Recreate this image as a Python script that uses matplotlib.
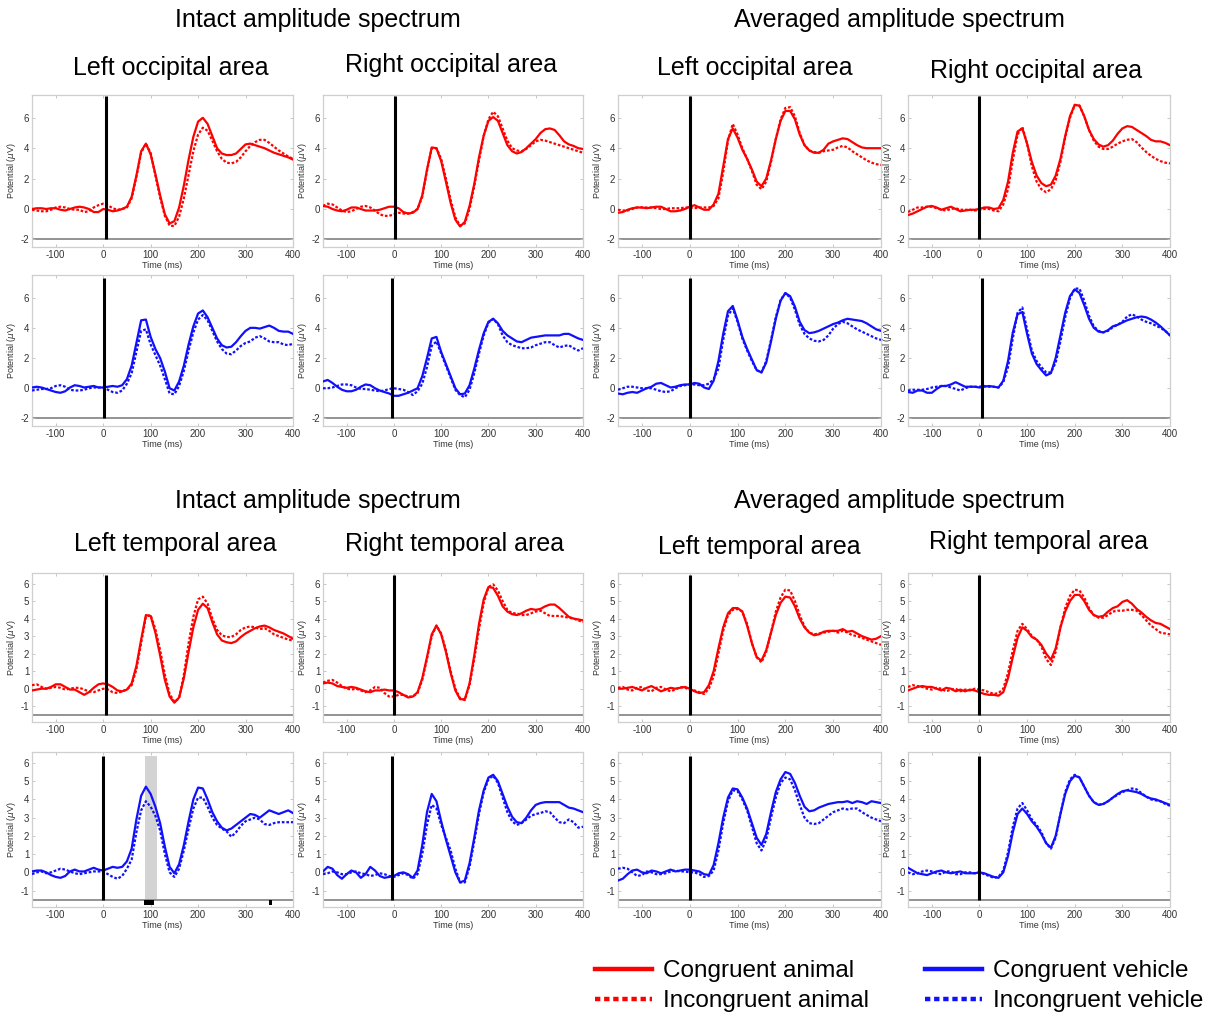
import matplotlib
matplotlib.use("Agg")
import matplotlib.pyplot as plt
from matplotlib.lines import Line2D

plt.rcParams['font.family'] = ['Liberation Sans', 'DejaVu Sans']
plt.rcParams['axes.unicode_minus'] = False

# ---------------------------------------------------------------- data
time_ms = list(range(-150, 401, 10))

# Occipital, animal (intact / averaged spectrum, left / right hemisphere)
occ_int_left_cong_animal = [
    0.0, 0.05, 0.05, 0.0, 0.05, 0.05, -0.05, -0.1, 0.0, 0.1, 0.15, 0.1, 0.0, -0.2, -0.2,
    0.0, -0.05, -0.15, -0.1, 0.0, 0.15,
    0.8, 2.2, 3.8, 4.3, 3.6, 2.3, 0.9, -0.35, -0.95, -0.8,
    0.1, 1.55, 3.25, 4.75, 5.75, 6.0, 5.6, 4.8, 4.0, 3.65,
    3.55, 3.55, 3.65, 3.95, 4.25, 4.3, 4.2, 4.1, 4.0, 3.85, 3.7, 3.6, 3.5, 3.4, 3.25]
occ_int_left_incong_animal = [
    -0.05, -0.1, -0.15, -0.15, -0.05, 0.1, 0.15, 0.1, 0.0, -0.05, -0.05, -0.2, -0.15, 0.1, 0.25,
    0.35, 0.25, 0.05, -0.05, 0.0, 0.1,
    0.7, 2.1, 3.7, 4.3, 3.7, 2.2, 0.75, -0.45, -1.1, -1.12,
    -0.5, 0.7, 2.25, 3.8, 4.9, 5.35, 5.15, 4.5, 3.8, 3.3,
    3.05, 3.0, 3.1, 3.4, 3.8, 4.15, 4.4, 4.55, 4.55, 4.35, 4.1, 3.85, 3.65, 3.45, 3.3]
occ_int_right_cong_animal = [
    0.2, 0.15, 0.0, -0.1, -0.15, -0.05, 0.1, 0.1, 0.0, -0.1, -0.1, -0.1, -0.05, 0.05, 0.15,
    0.15, 0.05, -0.2, -0.3, -0.25, 0.0,
    0.9, 2.6, 4.05, 4.0, 3.15, 1.8, 0.4, -0.7, -1.15, -0.85,
    0.2, 1.65, 3.4, 4.85, 5.8, 6.05, 5.8, 5.0, 4.2, 3.8,
    3.65, 3.75, 4.0, 4.3, 4.6, 5.0, 5.25, 5.3, 5.2, 4.85, 4.45, 4.25, 4.15, 4.0, 3.95]
occ_int_right_incong_animal = [
    0.2, 0.35, 0.3, 0.1, -0.1, -0.2, -0.15, 0.0, 0.15, 0.2, 0.1, -0.1, -0.35, -0.45, -0.45,
    -0.35, -0.25, -0.3, -0.3, -0.2, 0.0,
    0.8, 2.5, 4.0, 4.0, 3.3, 2.0, 0.6, -0.55, -1.1, -0.95,
    0.0, 1.5, 3.2, 4.8, 5.9, 6.4, 6.1, 5.3, 4.5, 4.0,
    3.85, 3.8, 3.95, 4.2, 4.45, 4.55, 4.5, 4.4, 4.3, 4.2, 4.1, 4.0, 3.9, 3.8, 3.7]
occ_avg_left_cong_animal = [
    -0.25, -0.2, -0.05, 0.05, 0.1, 0.1, 0.05, 0.1, 0.15, 0.15, 0.0, -0.15, -0.15, -0.1, 0.0,
    0.15, 0.25, 0.1, -0.05, -0.05, 0.3,
    1.0, 2.8, 4.6, 5.3, 4.7, 3.9, 3.3, 2.6, 1.8, 1.5,
    2.0, 3.2, 4.6, 5.8, 6.45, 6.45, 5.9, 4.9, 4.2, 3.85,
    3.7, 3.7, 3.9, 4.3, 4.45, 4.55, 4.65, 4.6, 4.4, 4.2, 4.05, 4.0, 4.0, 4.0, 4.0]
occ_avg_left_incong_animal = [
    -0.05, -0.1, -0.1, 0.0, 0.1, 0.1, 0.1, 0.1, 0.05, 0.0, 0.0, 0.05, 0.05, 0.05, 0.1,
    0.1, 0.05, 0.1, 0.1, 0.1, 0.2,
    0.7, 2.4, 4.5, 5.6, 4.9, 4.0, 3.3, 2.5, 1.6, 1.3,
    1.8, 3.1, 4.6, 5.9, 6.65, 6.7, 6.1, 5.0, 4.2, 3.85,
    3.75, 3.7, 3.8, 3.85, 3.9, 4.05, 4.15, 4.05, 3.8, 3.6, 3.4, 3.2, 3.05, 2.95, 2.9]
occ_avg_right_cong_animal = [
    -0.4, -0.3, -0.15, 0.0, 0.15, 0.2, 0.1, -0.05, 0.05, 0.15, 0.0, -0.15, -0.1, -0.05, -0.05,
    0.0, 0.1, 0.1, 0.0, 0.05, 0.6,
    1.8, 3.7, 5.1, 5.3, 4.3, 3.1, 2.2, 1.7, 1.5, 1.6,
    2.2, 3.3, 4.8, 6.1, 6.85, 6.8, 6.1, 5.2, 4.6, 4.25,
    4.1, 4.2, 4.5, 4.95, 5.3, 5.45, 5.4, 5.2, 5.0, 4.8, 4.55, 4.45, 4.45, 4.35, 4.2]
occ_avg_right_incong_animal = [
    -0.2, -0.05, 0.1, 0.1, 0.15, 0.15, 0.05, -0.05, -0.1, 0.0, 0.05, -0.05, -0.05, -0.05, -0.1,
    -0.05, 0.0, 0.0, -0.1, -0.15, 0.3,
    1.3, 3.2, 4.9, 5.4, 4.3, 2.8, 1.8, 1.3, 1.1, 1.3,
    1.9, 3.1, 4.7, 6.0, 6.85, 6.8, 6.1, 5.2, 4.5, 4.1,
    3.95, 3.95, 4.1, 4.3, 4.45, 4.55, 4.6, 4.4, 4.05, 3.75, 3.5, 3.3, 3.15, 3.05, 3.0]

# Occipital, vehicle
occ_int_left_cong_vehicle = [
    0.05, 0.1, 0.05, -0.05, -0.15, -0.25, -0.3, -0.2, 0.05, 0.2, 0.15, 0.05, 0.1, 0.15, 0.05,
    0.05, 0.1, 0.15, 0.1, 0.2, 0.6,
    1.5, 3.0, 4.5, 4.55, 3.4, 2.6, 2.0, 1.1, 0.0, -0.15,
    0.45, 1.5, 2.9, 4.1, 4.95, 5.15, 4.7, 4.0, 3.3, 2.85,
    2.7, 2.75, 3.05, 3.45, 3.8, 4.0, 4.0, 3.95, 4.05, 4.15, 4.0, 3.8, 3.75, 3.75, 3.6]
occ_int_left_incong_vehicle = [
    -0.15, -0.1, -0.05, -0.05, 0.0, 0.15, 0.2, 0.1, -0.1, -0.15, -0.15, -0.1, 0.0, 0.05, 0.05,
    0.05, -0.1, -0.25, -0.3, -0.15, 0.3,
    1.0, 2.4, 3.8, 3.9, 2.9, 2.2, 1.5, 0.6, -0.35, -0.4,
    0.15, 1.15, 2.5, 3.7, 4.55, 4.85, 4.5, 3.8, 3.1, 2.6,
    2.3, 2.25, 2.5, 2.8, 3.0, 3.1, 3.35, 3.45, 3.3, 3.1, 3.05, 3.05, 2.9, 2.85, 2.95]
occ_int_right_cong_vehicle = [
    0.45, 0.55, 0.35, 0.1, -0.1, -0.2, -0.2, -0.1, 0.1, 0.25, 0.2, 0.0, -0.15, -0.25, -0.35,
    -0.5, -0.5, -0.4, -0.3, -0.15, 0.0,
    0.8, 2.0, 3.3, 3.4, 2.4, 1.6, 0.8, 0.0, -0.4, -0.35,
    0.2, 1.3, 2.55, 3.65, 4.4, 4.6, 4.3, 3.8, 3.5, 3.3,
    3.1, 3.05, 3.2, 3.35, 3.4, 3.45, 3.5, 3.5, 3.5, 3.5, 3.6, 3.6, 3.45, 3.3, 3.2]
occ_int_right_incong_vehicle = [
    0.0, 0.0, 0.05, 0.15, 0.25, 0.25, 0.2, 0.05, -0.05, -0.05, -0.1, -0.15, -0.2, -0.15, -0.05,
    0.0, -0.05, -0.1, -0.25, -0.45, -0.2,
    0.3, 1.4, 2.8, 3.1, 2.3, 1.5, 0.7, -0.1, -0.45, -0.6,
    -0.1, 1.0, 2.3, 3.5, 4.35, 4.6, 4.25, 3.5, 3.05, 2.85,
    2.75, 2.65, 2.65, 2.7, 2.85, 2.95, 3.05, 3.05, 2.85, 2.7, 2.8, 2.85, 2.65, 2.5, 2.65]
occ_avg_left_cong_vehicle = [
    -0.35, -0.4, -0.3, -0.25, -0.3, -0.15, 0.0, 0.1, 0.3, 0.35, 0.2, 0.05, 0.1, 0.2, 0.25,
    0.25, 0.35, 0.3, 0.05, -0.05, 0.5,
    1.8, 3.6, 5.1, 5.45, 4.5, 3.4, 2.6, 1.9, 1.2, 1.05,
    1.7, 3.1, 4.6, 5.8, 6.3, 6.1, 5.4, 4.4, 3.85, 3.65,
    3.7, 3.8, 3.95, 4.1, 4.25, 4.35, 4.5, 4.6, 4.55, 4.5, 4.45, 4.3, 4.1, 3.9, 3.8]
occ_avg_left_incong_vehicle = [
    -0.1, 0.0, 0.1, 0.1, 0.05, 0.0, 0.0, 0.0, -0.1, -0.2, -0.25, -0.2, 0.0, 0.15, 0.2,
    0.25, 0.25, 0.2, 0.2, 0.3, 0.6,
    1.3, 3.2, 4.8, 5.3, 4.4, 3.3, 2.5, 1.8, 1.2, 1.05,
    1.8, 3.2, 4.7, 5.85, 6.3, 6.0, 5.2, 4.2, 3.6, 3.3,
    3.15, 3.1, 3.2, 3.5, 3.95, 4.25, 4.4, 4.3, 4.1, 3.9, 3.75, 3.6, 3.45, 3.3, 3.2]
occ_avg_right_cong_vehicle = [
    -0.25, -0.3, -0.15, -0.15, -0.3, -0.3, -0.05, 0.15, 0.15, 0.25, 0.4, 0.25, 0.1, 0.1, 0.1,
    0.05, 0.1, 0.15, 0.1, 0.05, 0.5,
    1.8, 3.7, 4.9, 5.05, 3.6, 2.3, 1.6, 1.2, 0.85, 1.0,
    2.0, 3.5, 5.0, 6.1, 6.55, 6.3, 5.5, 4.6, 4.0, 3.75,
    3.7, 3.85, 4.1, 4.2, 4.35, 4.5, 4.6, 4.7, 4.75, 4.7, 4.55, 4.35, 4.1, 3.8, 3.5]
occ_avg_right_incong_vehicle = [
    -0.15, -0.1, -0.1, -0.1, -0.05, 0.05, 0.1, 0.15, 0.15, 0.05, -0.05, -0.15, 0.0, 0.1, 0.1,
    0.1, 0.15, 0.1, 0.1, 0.05, 0.4,
    1.4, 3.3, 5.0, 5.35, 3.9, 2.5, 1.8, 1.4, 1.05, 1.05,
    1.7, 3.1, 4.7, 5.95, 6.6, 6.6, 5.8, 4.8, 4.1, 3.8,
    3.7, 3.8, 4.05, 4.2, 4.4, 4.75, 4.9, 4.75, 4.55, 4.4, 4.3, 4.15, 4.0, 3.8, 3.5]

# Temporal, animal
tmp_int_left_cong_animal = [
    -0.1, -0.05, 0.0, 0.0, 0.1, 0.25, 0.25, 0.1, -0.05, -0.05, -0.2, -0.35, -0.2, 0.05, 0.25,
    0.3, 0.25, 0.1, -0.1, -0.15, -0.05,
    0.3, 1.3, 2.8, 4.2, 4.15, 3.2, 1.9, 0.5, -0.45, -0.8,
    -0.5, 0.6, 2.1, 3.5, 4.5, 4.85, 4.6, 3.8, 3.1, 2.75,
    2.65, 2.6, 2.7, 2.95, 3.15, 3.3, 3.45, 3.55, 3.6, 3.5, 3.35, 3.25, 3.15, 3.0, 2.85]
tmp_int_left_incong_animal = [
    0.2, 0.25, 0.1, 0.0, 0.05, 0.1, 0.05, -0.05, 0.0, 0.05, 0.05, -0.05, -0.15, -0.2, -0.1,
    0.0, -0.05, -0.2, -0.25, -0.15, -0.05,
    0.2, 1.1, 2.6, 4.1, 4.2, 3.4, 2.2, 0.8, -0.3, -0.75,
    -0.55, 0.8, 2.6, 4.1, 5.1, 5.25, 4.85, 4.0, 3.35, 3.05,
    2.95, 2.95, 3.1, 3.35, 3.5, 3.55, 3.5, 3.4, 3.45, 3.3, 3.1, 3.0, 2.9, 2.8, 2.75]
tmp_int_right_cong_animal = [
    0.3, 0.35, 0.3, 0.15, 0.1, 0.05, 0.1, 0.05, -0.05, -0.15, -0.2, -0.1, -0.1, -0.05, -0.1,
    -0.1, -0.2, -0.35, -0.5, -0.45, -0.2,
    0.6, 1.8, 3.1, 3.6, 3.1, 2.1, 0.9, -0.1, -0.6, -0.6,
    0.3, 1.9, 3.7, 5.1, 5.8, 5.75, 5.3, 4.7, 4.4, 4.25,
    4.2, 4.3, 4.45, 4.55, 4.5, 4.55, 4.7, 4.8, 4.8, 4.6, 4.35, 4.1, 4.0, 3.95, 3.9]
tmp_int_right_incong_animal = [
    0.35, 0.45, 0.5, 0.35, 0.15, 0.0, -0.05, 0.0, -0.1, -0.2, -0.1, 0.1, 0.05, -0.25, -0.45,
    -0.45, -0.35, -0.35, -0.45, -0.45, -0.25,
    0.5, 1.7, 3.0, 3.6, 3.15, 2.2, 1.0, 0.0, -0.55, -0.65,
    0.2, 1.7, 3.4, 4.9, 5.8, 5.95, 5.6, 5.0, 4.5, 4.3,
    4.3, 4.2, 4.2, 4.3, 4.4, 4.45, 4.3, 4.15, 4.15, 4.15, 4.1, 4.05, 4.0, 3.9, 3.8]
tmp_avg_left_cong_animal = [
    0.0, 0.0, 0.05, 0.1, 0.0, -0.1, 0.05, 0.15, 0.0, -0.15, -0.05, 0.05, 0.0, 0.05, 0.1,
    0.0, -0.15, -0.25, -0.2, 0.2, 1.0,
    2.3, 3.5, 4.3, 4.6, 4.6, 4.4, 3.6, 2.6, 1.8, 1.6,
    2.2, 3.2, 4.2, 4.9, 5.25, 5.2, 4.7, 4.0, 3.5, 3.2,
    3.05, 3.1, 3.25, 3.3, 3.3, 3.3, 3.4, 3.25, 3.3, 3.15, 3.0, 2.9, 2.8, 2.85, 3.0]
tmp_avg_left_incong_animal = [
    0.05, 0.1, -0.05, -0.1, 0.05, 0.1, -0.1, -0.15, 0.05, 0.1, -0.05, -0.15, -0.05, 0.1, 0.05,
    -0.05, -0.1, -0.2, -0.3, 0.0, 0.7,
    2.0, 3.3, 4.2, 4.5, 4.55, 4.4, 3.7, 2.6, 1.8, 1.5,
    2.1, 3.2, 4.4, 5.2, 5.65, 5.6, 5.0, 4.2, 3.55, 3.2,
    3.1, 3.15, 3.2, 3.25, 3.3, 3.2, 3.3, 3.2, 3.05, 3.0, 2.9, 2.8, 2.7, 2.6, 2.5]
tmp_avg_right_cong_animal = [
    -0.1, 0.0, 0.1, 0.15, 0.1, 0.1, 0.0, -0.1, 0.05, 0.0, -0.15, -0.05, -0.15, -0.05, -0.1,
    -0.2, -0.3, -0.35, -0.35, -0.4, -0.2,
    0.6, 1.8, 2.9, 3.5, 3.3, 2.95, 2.8, 2.5, 2.0, 1.65,
    2.3, 3.5, 4.4, 5.0, 5.35, 5.35, 5.0, 4.5, 4.2, 4.1,
    4.15, 4.4, 4.6, 4.7, 4.95, 5.05, 4.85, 4.55, 4.35, 4.1, 3.9, 3.75, 3.7, 3.55, 3.4]
tmp_avg_right_incong_animal = [
    0.1, 0.2, 0.15, 0.1, 0.0, -0.05, 0.05, 0.0, -0.15, -0.05, 0.0, -0.15, -0.05, -0.1, 0.0,
    -0.05, -0.1, -0.2, -0.3, -0.25, 0.0,
    0.9, 2.2, 3.3, 3.7, 3.4, 3.0, 2.8, 2.4, 1.7, 1.35,
    2.1, 3.5, 4.6, 5.3, 5.65, 5.6, 5.2, 4.6, 4.2, 4.05,
    4.05, 4.2, 4.4, 4.45, 4.45, 4.5, 4.5, 4.45, 4.2, 3.9, 3.6, 3.4, 3.2, 3.15, 3.1]

# Temporal, vehicle
tmp_int_left_cong_vehicle = [
    0.05, 0.1, 0.1, 0.0, -0.15, -0.25, -0.3, -0.2, 0.05, 0.15, 0.05, 0.05, 0.15, 0.25, 0.15,
    0.1, 0.2, 0.3, 0.25, 0.3, 0.6,
    1.3, 2.9, 4.2, 4.7, 4.3, 3.6, 2.7, 1.4, 0.3, -0.05,
    0.45, 1.5, 2.8, 4.0, 4.65, 4.6, 4.0, 3.3, 2.8, 2.45,
    2.3, 2.4, 2.6, 2.8, 3.0, 3.2, 3.15, 3.0, 3.2, 3.4, 3.3, 3.2, 3.3, 3.4, 3.25]
tmp_int_left_incong_vehicle = [
    -0.1, 0.0, 0.05, -0.05, 0.0, 0.1, 0.2, 0.15, 0.05, -0.05, -0.1, -0.05, 0.0, 0.05, 0.05,
    0.05, -0.1, -0.25, -0.35, -0.2, 0.2,
    0.7, 2.2, 3.4, 3.9, 3.6, 3.1, 2.3, 1.0, 0.0, -0.25,
    0.2, 1.2, 2.4, 3.5, 4.1, 4.1, 3.6, 3.0, 2.6, 2.4,
    2.25, 1.95, 2.2, 2.55, 2.8, 2.9, 3.0, 2.9, 2.65, 2.6, 2.7, 2.75, 2.75, 2.75, 2.75]
tmp_int_right_cong_vehicle = [
    0.05, 0.3, 0.2, -0.15, -0.35, -0.1, 0.1, 0.0, -0.3, -0.1, 0.3, 0.1, -0.2, -0.3, -0.25,
    -0.2, -0.05, 0.0, -0.1, -0.3, 0.1,
    1.5, 3.3, 4.3, 3.9, 2.8, 1.8, 0.9, 0.0, -0.55, -0.45,
    0.5, 1.9, 3.4, 4.5, 5.2, 5.35, 5.0, 4.3, 3.6, 3.05,
    2.75, 2.7, 3.0, 3.4, 3.7, 3.8, 3.85, 3.85, 3.85, 3.85, 3.7, 3.55, 3.5, 3.4, 3.3]
tmp_int_right_incong_vehicle = [
    -0.1, -0.05, 0.05, 0.0, -0.1, -0.1, 0.0, 0.05, -0.05, -0.1, -0.2, -0.15, -0.05, -0.1, -0.2,
    -0.25, -0.15, -0.05, -0.15, -0.35, -0.1,
    1.0, 2.6, 3.7, 3.5, 2.6, 1.9, 1.2, 0.2, -0.55, -0.55,
    0.3, 1.7, 3.2, 4.4, 5.1, 5.3, 4.9, 4.1, 3.3, 2.8,
    2.6, 2.7, 2.9, 3.1, 3.2, 3.25, 3.35, 3.3, 3.0, 2.75, 2.7, 2.9, 2.75, 2.45, 2.5]
tmp_avg_left_cong_vehicle = [
    -0.45, -0.35, -0.1, 0.1, 0.15, 0.0, -0.05, 0.1, 0.05, -0.05, 0.05, 0.15, 0.05, 0.1, 0.15,
    0.15, 0.1, 0.05, -0.1, -0.15, 0.4,
    1.6, 3.0, 4.1, 4.6, 4.55, 4.1, 3.5, 2.7, 1.9, 1.5,
    2.1, 3.3, 4.4, 5.1, 5.5, 5.4, 4.9, 4.2, 3.6, 3.35,
    3.4, 3.55, 3.65, 3.75, 3.8, 3.85, 3.85, 3.9, 3.8, 3.9, 3.85, 3.75, 3.9, 3.85, 3.8]
tmp_avg_left_incong_vehicle = [
    0.2, 0.25, 0.2, 0.0, -0.2, -0.15, 0.05, 0.0, -0.1, -0.1, -0.05, 0.05, 0.1, 0.05, 0.05,
    0.0, 0.0, -0.1, -0.25, -0.2, 0.1,
    1.2, 2.7, 3.9, 4.5, 4.45, 4.0, 3.4, 2.5, 1.6, 1.2,
    1.8, 3.0, 4.1, 4.9, 5.2, 5.1, 4.5, 3.7, 3.0, 2.7,
    2.65, 2.7, 2.9, 3.1, 3.3, 3.4, 3.5, 3.45, 3.5, 3.5, 3.3, 3.15, 3.0, 2.9, 2.8]
tmp_avg_right_cong_vehicle = [
    0.25, 0.1, -0.05, -0.1, -0.15, -0.05, 0.05, 0.1, 0.0, -0.05, 0.0, 0.05, -0.05, -0.05, -0.05,
    0.0, -0.05, -0.15, -0.25, -0.3, 0.0,
    0.9, 2.2, 3.2, 3.5, 3.2, 2.8, 2.5, 2.1, 1.6, 1.35,
    2.0, 3.2, 4.3, 5.0, 5.3, 5.2, 4.7, 4.2, 3.85, 3.7,
    3.75, 3.9, 4.1, 4.3, 4.45, 4.5, 4.45, 4.4, 4.3, 4.15, 4.05, 4.0, 3.9, 3.8, 3.7]
tmp_avg_right_incong_vehicle = [
    0.0, -0.1, -0.05, 0.05, 0.1, 0.05, -0.05, -0.1, 0.05, 0.05, -0.1, -0.1, 0.0, 0.0, -0.05,
    0.0, -0.1, -0.2, -0.3, -0.25, 0.1,
    1.1, 2.5, 3.5, 3.8, 3.4, 2.9, 2.6, 2.2, 1.6, 1.3,
    1.9, 3.2, 4.4, 5.1, 5.35, 5.2, 4.7, 4.2, 3.85, 3.7,
    3.75, 3.9, 4.1, 4.25, 4.4, 4.5, 4.6, 4.55, 4.35, 4.15, 4.0, 3.95, 3.9, 3.75, 3.65]

# Stimulus-onset marker per panel (ms), one row per panel row
onset_ms = [[6, 2, 1, 0],
            [1, -4, 1, 6],
            [5, 1, 0, 0],
            [0, -3, 0, 0]]

# Significant time windows (ms) for intact / left temporal / vehicle
sig_windows_ms = [(85, 108), (349, 355)]
highlight_window_ms = (88, 113)

spectrum_titles = ['Intact amplitude spectrum', 'Averaged amplitude spectrum']
area_titles_top = ['Left occipital area', 'Right occipital area',
                   'Left occipital area', 'Right occipital area']
area_titles_bottom = ['Left temporal area', 'Right temporal area',
                      'Left temporal area', 'Right temporal area']
legend_labels = ['Congruent animal', 'Incongruent animal',
                 'Congruent vehicle', 'Incongruent vehicle']
x_ticks = [-100, 0, 100, 200, 300, 400]

# ---------------------------------------------------------------- layout
RED = '#ff0000'
BLUE = '#1010ff'
FIG_W, FIG_H = 1223, 1017

rows = [
    dict(series=[(occ_int_left_cong_animal, occ_int_left_incong_animal),
                 (occ_int_right_cong_animal, occ_int_right_incong_animal),
                 (occ_avg_left_cong_animal, occ_avg_left_incong_animal),
                 (occ_avg_right_cong_animal, occ_avg_right_incong_animal)],
         color=RED, ylim=(-2.5, 7.5), yticks=[-2, 0, 2, 4, 6], base=-2, top=7.45,
         px=(95, 247)),
    dict(series=[(occ_int_left_cong_vehicle, occ_int_left_incong_vehicle),
                 (occ_int_right_cong_vehicle, occ_int_right_incong_vehicle),
                 (occ_avg_left_cong_vehicle, occ_avg_left_incong_vehicle),
                 (occ_avg_right_cong_vehicle, occ_avg_right_incong_vehicle)],
         color=BLUE, ylim=(-2.5, 7.5), yticks=[-2, 0, 2, 4, 6], base=-2, top=7.3,
         px=(275, 426)),
    dict(series=[(tmp_int_left_cong_animal, tmp_int_left_incong_animal),
                 (tmp_int_right_cong_animal, tmp_int_right_incong_animal),
                 (tmp_avg_left_cong_animal, tmp_avg_left_incong_animal),
                 (tmp_avg_right_cong_animal, tmp_avg_right_incong_animal)],
         color=RED, ylim=(-1.9, 6.6), yticks=[-1, 0, 1, 2, 3, 4, 5, 6], base=-1.5, top=6.5,
         px=(573, 722)),
    dict(series=[(tmp_int_left_cong_vehicle, tmp_int_left_incong_vehicle),
                 (tmp_int_right_cong_vehicle, tmp_int_right_incong_vehicle),
                 (tmp_avg_left_cong_vehicle, tmp_avg_left_incong_vehicle),
                 (tmp_avg_right_cong_vehicle, tmp_avg_right_incong_vehicle)],
         color=BLUE, ylim=(-1.9, 6.6), yticks=[-1, 0, 1, 2, 3, 4, 5, 6], base=-1.5, top=6.4,
         px=(752, 907)),
]
col_px = [(32, 293), (323, 583), (618, 881), (908, 1170)]

DOT = (0, (1.2, 0.85))

fig = plt.figure(figsize=(FIG_W / 100, FIG_H / 100), dpi=100)

for r, row in enumerate(rows):
    top_px, bot_px = row['px']
    for c, (cong, incong) in enumerate(row['series']):
        l_px, r_px = col_px[c]
        ax = fig.add_axes([l_px / FIG_W, 1 - bot_px / FIG_H,
                           (r_px - l_px) / FIG_W, (bot_px - top_px) / FIG_H])
        if r == 3 and c == 0:
            ax.fill_between(highlight_window_ms, row['base'], 6.4,
                            color='#d3d3d3', lw=0, zorder=0)
        ax.axhline(row['base'], color='#8a8a8a', lw=1.3, zorder=1)
        ax.plot(time_ms, cong, color=row['color'], lw=1.6, zorder=3)
        ax.plot(time_ms, incong, color=row['color'], lw=1.6, linestyle=DOT, zorder=3)
        t0 = onset_ms[r][c]
        ax.plot([t0, t0], [row['base'], row['top']], color='black', lw=2.2, zorder=4,
                solid_capstyle='butt')
        if r == 3 and c == 0:
            for a, b in sig_windows_ms:
                ax.fill_between([a, b], row['base'] - 0.3, row['base'],
                                color='black', lw=0, zorder=5)
        ax.set_xlim(-150, 400)
        ax.set_ylim(*row['ylim'])
        ax.set_xticks(x_ticks)
        ax.set_yticks(row['yticks'])
        ax.tick_params(direction='in', length=2.5, width=0.6, color='#bdbdbd',
                       labelcolor='#333333', labelsize=7, top=True, right=True, pad=2)
        for s in ax.spines.values():
            s.set_color('#cfcfcf')
            s.set_linewidth(0.9)
        ax.set_xlabel('Time (ms)', fontsize=6.5, labelpad=1, color='#333333')
        ax.set_ylabel(r'Potential ($\mu$V)', fontsize=6.5, labelpad=2, color='#333333')

# ---------------------------------------------------------------- titles
def ftext(x_px, y_px, s, size=18):
    fig.text(x_px / FIG_W, 1 - y_px / FIG_H, s, ha='center', va='center',
             fontsize=size, color='black')

ftext(318, 20, spectrum_titles[0])
ftext(899, 20, spectrum_titles[1])
ftext(318, 501, spectrum_titles[0])
ftext(899, 501, spectrum_titles[1])

for (x, y), s in zip([(171, 68), (451, 65), (755, 68), (1036, 71)], area_titles_top):
    ftext(x, y, s)
for (x, y), s in zip([(175, 544), (455, 544), (759, 547), (1039, 542)], area_titles_bottom):
    ftext(x, y, s)

# ---------------------------------------------------------------- legend
legend_specs = [
    (595, 969, RED, '-'), (595, 999, RED, DOT),
    (925, 969, BLUE, '-'), (925, 999, BLUE, DOT),
]
for (x0, y0, col, ls), label in zip(legend_specs, legend_labels):
    fig.add_artist(Line2D([x0 / FIG_W, (x0 + 57) / FIG_W],
                          [1 - y0 / FIG_H, 1 - y0 / FIG_H],
                          transform=fig.transFigure, color=col, lw=3.2, linestyle=ls))
    fig.text((x0 + 68) / FIG_W, 1 - (y0 + 2) / FIG_H, label, ha='left', va='center',
             fontsize=17.5, color='black')

fig.savefig('out.png', dpi=100)
